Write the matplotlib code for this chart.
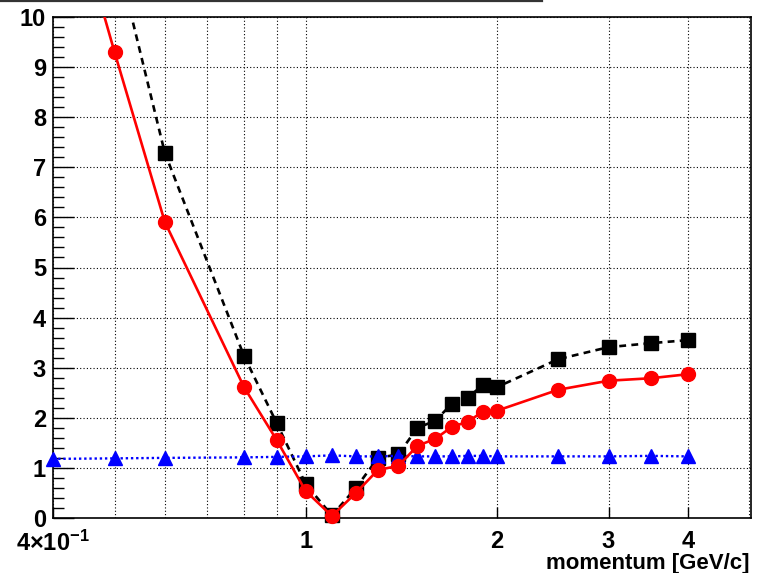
import numpy as np
import matplotlib
matplotlib.use("Agg")
import matplotlib.pyplot as plt
from matplotlib.lines import Line2D
from matplotlib.ticker import FixedLocator, NullFormatter

# momentum points [GeV/c] and the three curves
p_red = [0.4, 0.5, 0.6, 0.8, 0.9, 1.0, 1.1, 1.2, 1.3, 1.4, 1.5, 1.6, 1.7, 1.8, 1.9, 2.0, 2.5, 3.0, 3.5, 4.0]
y_red = [13.6, 9.30, 5.91, 2.61, 1.56, 0.54, 0.04, 0.50, 0.96, 1.04, 1.44, 1.58, 1.82, 1.92, 2.12, 2.14, 2.56, 2.74, 2.79, 2.87]

p_black = [0.5, 0.6, 0.8, 0.9, 1.0, 1.1, 1.2, 1.3, 1.4, 1.5, 1.6, 1.7, 1.8, 1.9, 2.0, 2.5, 3.0, 3.5, 4.0]
y_black = [11.4, 7.29, 3.23, 1.90, 0.68, 0.05, 0.60, 1.20, 1.27, 1.80, 1.94, 2.28, 2.40, 2.65, 2.61, 3.17, 3.41, 3.49, 3.55]

p_blue = [0.4, 0.5, 0.6, 0.8, 0.9, 1.0, 1.1, 1.2, 1.3, 1.4, 1.5, 1.6, 1.7, 1.8, 1.9, 2.0, 2.5, 3.0, 3.5, 4.0]
y_blue = [1.18, 1.19, 1.20, 1.21, 1.22, 1.23, 1.25, 1.23, 1.23, 1.24, 1.23, 1.23, 1.23, 1.24, 1.24, 1.23, 1.23, 1.23, 1.24, 1.23]

x_major = [0.4, 1, 2, 3, 4]
x_major_labels = [r"$\mathbf{4{\times}10^{-1}}$", "1", "2", "3", "4"]
x_minor = [0.5, 0.6, 0.7, 0.8, 0.9, 5]
y_major = list(range(0, 11))
x_title = "momentum [GeV/c]"

YMAX = 10.0

plt.rcParams['font.family'] = ['Liberation Sans', 'DejaVu Sans']
plt.rcParams['mathtext.fontset'] = 'custom'
plt.rcParams['mathtext.rm'] = 'Liberation Sans:bold'
plt.rcParams['mathtext.bf'] = 'Liberation Sans:bold'

fig = plt.figure(figsize=(7.62, 5.73), dpi=100)
ax = fig.add_axes([53 / 762, 1 - 518 / 573, 698 / 762, 501 / 573])
ax.set_xscale('log')
ax.set_xlim(0.4, 5.03)
ax.set_ylim(0, YMAX)


def draw(px, py, color, ls, lw, marker, ms, z, dashes=None):
    px = np.asarray(px)
    py = np.asarray(py)
    line, = ax.plot(px, py, color=color, lw=lw, ls=ls, zorder=z)
    if dashes is not None:
        line.set_dashes(dashes)
    inside = py <= YMAX
    ax.plot(px[inside], py[inside], ls='none', marker=marker, ms=ms,
            color=color, mec=color, zorder=z + 0.5, clip_on=False)


draw(p_black, y_black, 'black', '--', 1.9, 's', 9.5, 3, dashes=(2.6, 2.0))
draw(p_blue, y_blue, 'blue', ':', 1.7, '^', 10, 4, dashes=(1.0, 1.2))
draw(p_red, y_red, 'red', '-', 1.9, 'o', 10, 5)

# grid
ax.xaxis.set_major_locator(FixedLocator(x_major))
ax.xaxis.set_minor_locator(FixedLocator(x_minor))
ax.xaxis.set_minor_formatter(NullFormatter())
ax.set_xticklabels(x_major_labels)
ax.yaxis.set_major_locator(FixedLocator(y_major))
ax.yaxis.set_minor_locator(FixedLocator(np.arange(0, 10.01, 0.2)))
ax.grid(True, which='major', color='black', lw=0.8, ls=(0, (1, 2.0)))
ax.grid(True, which='minor', axis='x', color='black', lw=0.8, ls=(0, (1, 2.0)))

ax.tick_params(axis='y', which='major', direction='in', length=15, width=1.0,
               labelsize=17, pad=5, right=False)
ax.tick_params(axis='y', which='minor', direction='in', length=8, width=1.0, right=False)
ax.tick_params(axis='x', which='major', direction='in', length=8, width=1.0,
               labelsize=17, pad=9, top=False)
ax.tick_params(axis='x', which='minor', direction='in', length=0, top=False)
for lab in ax.get_xticklabels() + ax.get_yticklabels():
    lab.set_fontweight('bold')

for s in ax.spines.values():
    s.set_linewidth(1.2)

fig.text(750 / 762, 1 - 563 / 573, x_title, ha='right', va='center',
         fontsize=16, fontweight='bold')

# lower border of the title pad
fig.add_artist(Line2D([0, 542 / 762], [1 - 1.2 / 573, 1 - 1.2 / 573],
                      color='#333333', lw=1.6, transform=fig.transFigure))

fig.savefig('out.png', dpi=100)
